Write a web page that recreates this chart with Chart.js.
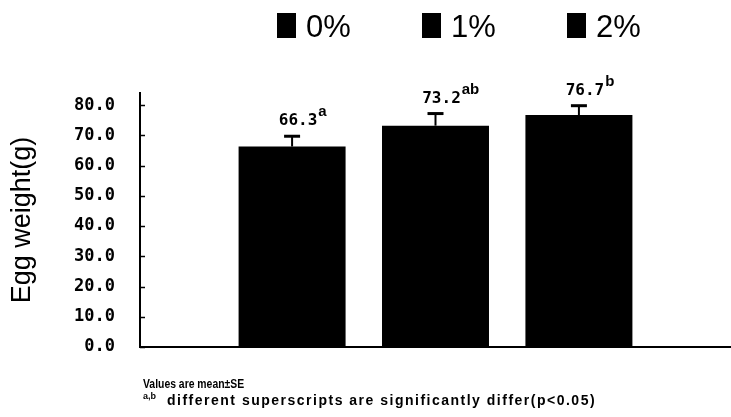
<!DOCTYPE html>
<html>
<head>
<meta charset="utf-8">
<title>Egg weight</title>
<script src="https://cdn.jsdelivr.net/npm/chart.js@4.4.1/dist/chart.umd.min.js"></script>
<style>
  html, body { margin: 0; padding: 0; background: #fff; }
  #wrap { position: relative; width: 731px; height: 417px; }
</style>
</head>
<body>
<div id="wrap"><canvas id="eggChart"></canvas></div>
<script>
const GROUPS  = ['0%', '1%', '2%'];
const MEANS   = [66.3, 73.2, 76.7];
const SE      = [3.4, 4.0, 3.1];
const LETTERS = ['a', 'ab', 'b'];
const Y_TICKS = [0, 10, 20, 30, 40, 50, 60, 70, 80];
const NOTE_1  = 'Values are mean\u00b1SE';
const NOTE_2  = 'different superscripts are significantly differ(p<0.05)';

const SANS = '"Liberation Sans", Arial, sans-serif';

// error bars (upper half) + mean labels with superscripts
const annotate = {
    id: 'annotate',
    afterDatasetsDraw(chart) {
        const { ctx, scales: { y } } = chart;
        ctx.save();
        ctx.strokeStyle = '#000';
        ctx.fillStyle = '#000';
        chart.data.datasets.forEach((ds, i) => {
            const bar = chart.getDatasetMeta(i).data[0];
            const top = y.getPixelForValue(MEANS[i] + SE[i]);

            ctx.lineWidth = 2;
            ctx.beginPath();
            ctx.moveTo(bar.x, bar.y);
            ctx.lineTo(bar.x, top);
            ctx.stroke();
            ctx.lineWidth = 3;
            ctx.beginPath();
            ctx.moveTo(bar.x - 8, top);
            ctx.lineTo(bar.x + 8, top);
            ctx.stroke();

            const txt = MEANS[i].toFixed(1);
            ctx.font = 'bold 16px "DejaVu Sans Mono", monospace';
            ctx.textAlign = 'left';
            ctx.textBaseline = 'alphabetic';
            const w = ctx.measureText(txt).width;
            const x0 = bar.x + 6 - w / 2;
            const base = top - 11;
            ctx.fillText(txt, x0, base);
            ctx.font = 'bold 15px ' + SANS;
            ctx.fillText(LETTERS[i], x0 + w + 1, base - 9);
        });
        ctx.restore();
    }
};

// short tick marks pointing into the plot
const innerTicks = {
    id: 'innerTicks',
    afterDraw(chart) {
        const { ctx, scales: { y } } = chart;
        ctx.save();
        ctx.strokeStyle = '#000';
        ctx.lineWidth = 1.5;
        y.ticks.forEach(t => {
            const py = Math.round(y.getPixelForValue(t.value)) + 0.5;
            ctx.beginPath();
            ctx.moveTo(y.right, py);
            ctx.lineTo(y.right + 5, py);
            ctx.stroke();
        });
        ctx.restore();
    }
};

// legend row on top and the footnote under the axis
const extras = {
    id: 'extras',
    afterDraw(chart) {
        const { ctx, chartArea } = chart;
        ctx.save();
        ctx.textAlign = 'left';
        ctx.textBaseline = 'alphabetic';

        let x = chartArea.left + 137;
        ctx.font = '31px ' + SANS;
        chart.data.datasets.forEach(ds => {
            ctx.fillStyle = ds.backgroundColor;
            ctx.fillRect(x, 13, 19, 25);
            ctx.fillStyle = '#000';
            ctx.fillText(ds.label, x + 29, 37);
            x += 145;
        });

        const fx = chartArea.left + 3;
        // first note line is set in a squeezed face
        ctx.save();
        ctx.translate(fx, 388);
        ctx.scale(0.8, 1);
        ctx.font = 'bold 13px ' + SANS;
        ctx.fillText(NOTE_1, 0, 0);
        ctx.restore();

        ctx.font = 'bold 9px ' + SANS;
        ctx.fillText('a,b', fx, 399);
        ctx.font = 'bold 14px ' + SANS;
        ctx.letterSpacing = '1.5px';
        ctx.fillText(NOTE_2, fx + 24, 405);
        ctx.restore();
    }
};

new Chart(document.getElementById('eggChart'), {
    type: 'bar',
    data: {
        labels: [''],
        datasets: GROUPS.map((g, i) => ({
            label: g,
            data: [MEANS[i]],
            backgroundColor: '#000',
            borderWidth: 0,
        })),
    },
    options: {
        responsive: true,
        maintainAspectRatio: false,
        animation: false,
        layout: { padding: { top: 93, right: 0, bottom: 70, left: 0 } },
        datasets: { bar: { categoryPercentage: 0.728, barPercentage: 0.746 } },
        plugins: {
            legend: { display: false },
            tooltip: { enabled: false },
        },
        scales: {
            x: {
                grid: { display: true, drawOnChartArea: false, drawTicks: false },
                border: { color: '#000', width: 2 },
                ticks: { display: false },
                afterFit(s) { s.height = 0; },
            },
            y: {
                min: 0,
                max: 84,
                afterBuildTicks(s) { s.ticks = Y_TICKS.map(v => ({ value: v })); },
                afterFit(s) { s.width = 140; },
                grid: { display: true, drawOnChartArea: false, drawTicks: false },
                border: { color: '#000', width: 2 },
                ticks: {
                    padding: 25,
                    color: '#000',
                    font: { family: '"DejaVu Sans Mono", monospace', size: 17, weight: 'bold' },
                    callback: v => v.toFixed(1),
                },
                title: {
                    display: true,
                    text: 'Egg weight(g)',
                    color: '#000',
                    font: { family: SANS, size: 27 },
                    padding: { top: 6, bottom: 0 },
                },
            },
        },
    },
    plugins: [annotate, innerTicks, extras],
});
</script>
</body>
</html>
